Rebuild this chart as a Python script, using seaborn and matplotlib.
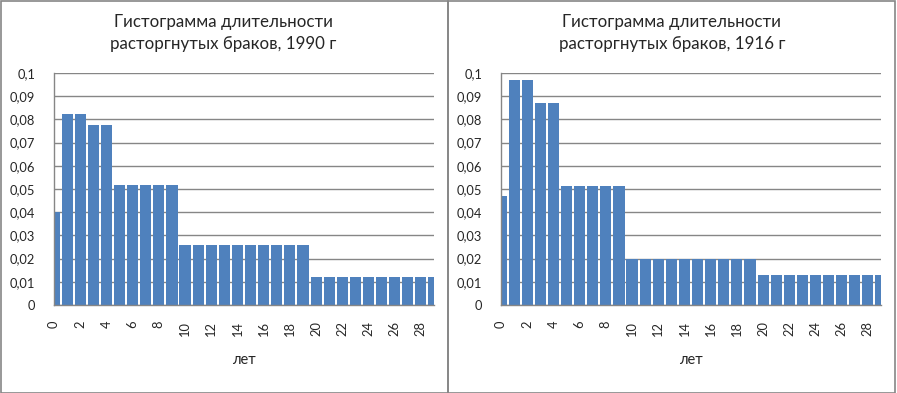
import numpy as np
import pandas as pd
import matplotlib
matplotlib.use('Agg')
import matplotlib.pyplot as plt
import seaborn as sns
from matplotlib.patches import Rectangle

# данные: доля разводов по длительности брака (лет)
years = list(range(30))
share_1990 = [0.0402, 0.0825, 0.0825, 0.0778, 0.0778,
              0.0519, 0.0519, 0.0519, 0.0519, 0.0519,
              0.026, 0.026, 0.026, 0.026, 0.026,
              0.026, 0.026, 0.026, 0.026, 0.026,
              0.0122, 0.0122, 0.0122, 0.0122, 0.0122,
              0.0122, 0.0122, 0.0122, 0.0122, 0.0122]
share_1916 = [0.0471, 0.0971, 0.0971, 0.0872, 0.0872,
              0.0514, 0.0514, 0.0514, 0.0514, 0.0514,
              0.0198, 0.0198, 0.0198, 0.0198, 0.0198,
              0.0198, 0.0198, 0.0198, 0.0198, 0.0198,
              0.0131, 0.0131, 0.0131, 0.0131, 0.0131,
              0.0131, 0.0131, 0.0131, 0.0131, 0.0131]
titles = ['Гистограмма длительности\nрасторгнутых браков, 1990 г',
          'Гистограмма длительности\nрасторгнутых браков, 1916 г']
y_ticks = [0, 0.01, 0.02, 0.03, 0.04, 0.05, 0.06, 0.07, 0.08, 0.09, 0.1]
y_labels = ['0', '0,01', '0,02', '0,03', '0,04', '0,05', '0,06', '0,07', '0,08', '0,09', '0,1']
x_label = 'лет'

sns.set_style('white')
plt.rcParams['font.family'] = ['Lato', 'DejaVu Sans']

grey = '#868686'
bar_color = '#4F81BD'

fig = plt.figure(figsize=(8.97, 3.93), dpi=100)

# рамки двух диаграмм
for x0 in [0.5 / 897, 448 / 897]:
    fig.patches.append(Rectangle((x0, 0.5 / 393), 447 / 897, 391.5 / 393,
                                 transform=fig.transFigure, fill=False,
                                 edgecolor=grey, linewidth=1.2))

panels = [(54, share_1990, titles[0], 223.5), (501, share_1916, titles[1], 672)]

for left_px, vals, title, center_px in panels:
    ax = fig.add_axes([left_px / 897, 88 / 393, 380 / 897, 232 / 393])
    df = pd.DataFrame({'year': years, 'share': vals})
    sns.barplot(data=df, x='year', y='share', color=bar_color, saturation=1,
                width=0.85, edgecolor='none', ax=ax)
    ax.set_xlim(0, 29)
    ax.set_ylim(0, 0.1)
    ax.set_yticks(y_ticks)
    ax.set_yticklabels(y_labels, fontsize=9.3)
    ax.set_xticks(range(0, 30, 2))
    ax.set_xticklabels([str(v) for v in range(0, 30, 2)], rotation=90, fontsize=9.3)
    ax.set_xticks(range(30), minor=True)
    ax.tick_params(axis='both', which='both', direction='out', length=4.5,
                   width=1, color=grey)
    ax.tick_params(axis='x', pad=7)
    ax.tick_params(axis='y', pad=9)
    ax.yaxis.grid(True, color=grey, linewidth=1)
    ax.set_axisbelow(True)
    for s in ['top', 'right']:
        ax.spines[s].set_visible(False)
    for s in ['left', 'bottom']:
        ax.spines[s].set_color(grey)
        ax.spines[s].set_linewidth(1)
    ax.set_xlabel(x_label, fontsize=10.5, labelpad=12)
    ax.set_ylabel('')
    fig.text(center_px / 897, 1 - 33 / 393, title, ha='center', va='center',
             fontsize=12.2, linespacing=1.4)

fig.savefig('out.png', dpi=100)
